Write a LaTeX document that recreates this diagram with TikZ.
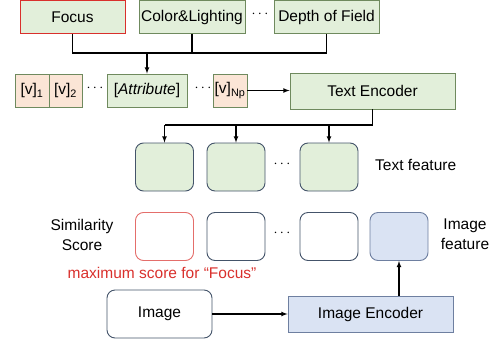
\documentclass[tikz,border=0pt]{standalone}
\usepackage{fontspec}
\setmainfont{Liberation Sans}
\usetikzlibrary{arrows,calc}
\definecolor{grfill}{HTML}{E2EFDA}
\definecolor{grline}{HTML}{6F8A5E}
\definecolor{orfill}{HTML}{FBE5D6}
\definecolor{blfill}{HTML}{DAE3F3}
\definecolor{blline}{HTML}{6E7FA0}
\definecolor{navyline}{HTML}{44546A}
\definecolor{redline}{HTML}{D9302C}
\tikzset{
  every node/.style={font=\fontsize{15.5}{19}\selectfont, inner sep=0pt},
  gbox/.style={draw=grline, fill=grfill, line width=0.9pt},
  obox/.style={draw=grline, fill=orfill, line width=0.9pt},
  feat/.style={draw=navyline, rounded corners=8pt, line width=0.9pt,
    minimum width=58pt, minimum height=48pt},
  conn/.style={line width=1.1pt, -latex},
}
\begin{document}
\begin{tikzpicture}[x=1pt,y=-1pt]
\useasboundingbox (0,0) rectangle (495,343);
% attribute words
\node [gbox, draw=redline, minimum width=105pt, minimum height=33pt] (focus) at (72.5,17) {Focus};
\node [gbox, minimum width=106pt, minimum height=33pt] (color) at (192,17) {Color\&Lighting};
\node (tdots) at (260,14) {$\cdots$};
\node [gbox, minimum width=105pt, minimum height=33pt] (dof) at (326.5,17) {Depth of Field};
\coordinate (top) at (147,53);
\draw [line width=1.1pt] (focus.south) |- (dof.south |- top) -- (dof.south);
\draw [line width=1.1pt] (color.south) -- (color.south |- top);

% prompt
\node [obox, minimum width=34pt, minimum height=33pt] (v1) at (32,90.5) {[v]\textsubscript{1}};
\node [obox, minimum width=33pt, minimum height=33pt] (v2) at (65.5,90.5) {[v]\textsubscript{2}};
\node (pdots1) at (95,88) {$\cdots$};
\node [gbox, minimum width=80pt, minimum height=33pt] (attr) at (147,90.5) {[\textit{Attribute}]};
\node (pdots2) at (203,88) {$\cdots$};
\node [obox, minimum width=34pt, minimum height=33pt] (vnp) at (230,90.5) {[v]\textsubscript{Np}};
\node [gbox, minimum width=165pt, minimum height=36pt] (tenc) at (372.5,91) {Text Encoder};
\draw [conn] (top) -- (attr.north);
\draw [conn] (vnp.east) -- (tenc.west |- vnp.east);

% text features
\node [feat, fill=grfill] (tf1) at (164.5,167) {};
\node [feat, fill=grfill] (tf2) at (236,167) {};
\node (fdots1) at (282,164) {$\cdots$};
\node [feat, fill=grfill] (tf3) at (329,167) {};
\node [anchor=west] (tflab) at (375,165) {Text feature};
\coordinate (split) at (372.5,125);
\draw [line width=1.1pt] (tenc.south) -- (split) -- (split -| tf1.north);
\draw [conn] (split -| tf1.north) -- (tf1.north);
\draw [conn] (split -| tf2.north) -- (tf2.north);
\draw [conn] (split -| tf3.north) -- (tf3.north);

% similarity scores
\node [align=center] (simlab) at (82,235) {Similarity\\[1pt]Score};
\node [feat, draw=redline!70] (s1) at (164.5,236.5) {};
\node [feat] (s2) at (236,236.5) {};
\node (fdots2) at (282,233) {$\cdots$};
\node [feat] (s3) at (329,236.5) {};
\node [feat, draw=blline, fill=blfill] (ifeat) at (399,236.5) {};
\node [align=center] (iflab) at (465,234) {Image\\[1pt]feature};
\node [text=redline] (maxlab) at (162,273) {maximum score for \char"201C Focus\char"201D};

% image branch
\node [draw=navyline, rounded corners=8pt, line width=0.9pt, minimum width=105pt, minimum height=48pt] (img) at (159.5,314) {Image};
\node [draw=blline, fill=blfill, line width=0.9pt, minimum width=165pt, minimum height=36pt] (ienc) at (370.5,314) {Image Encoder};
\draw [conn] (img.east) -- (ienc.west);
\draw [conn] (ienc.north -| ifeat.south) -- (ifeat.south);
\end{tikzpicture}
\end{document}
